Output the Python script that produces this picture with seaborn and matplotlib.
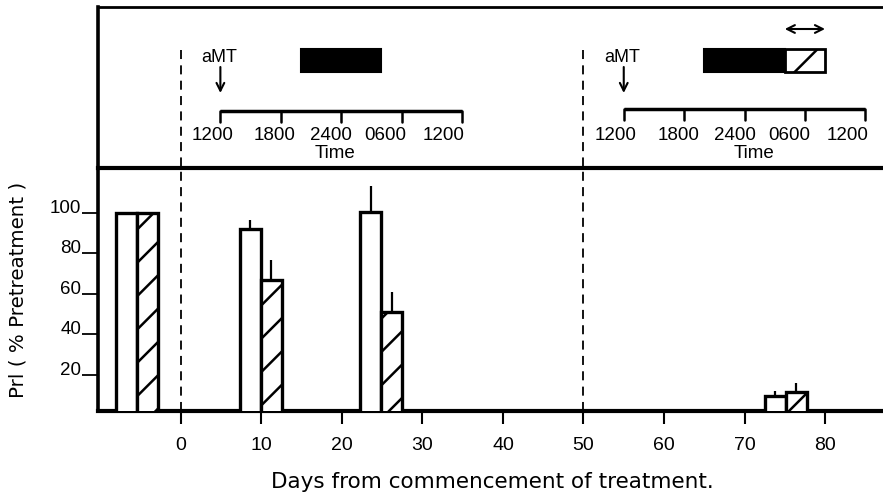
import numpy as np
import pandas as pd
import matplotlib
matplotlib.use("Agg")
import matplotlib.pyplot as plt
from matplotlib.patches import Rectangle
import seaborn as sns

# ---------------- data ----------------
group_days = [-5.4, 9.9, 24.9, 75.1]
control_pct = [100, 92, 100.5, 9.6]
control_sem = [0, 4.5, 12.8, 2.6]
amt_pct = [100, 67, 51.3, 11.8]
amt_sem = [0, 9.9, 9.8, 4.4]
series_names = ["Control", "aMT"]
x_ticks = [0, 10, 20, 30, 40, 50, 60, 70, 80]
y_ticks = [20, 40, 60, 80, 100]
treatment_days = [0, 50]
schedule_start_days = [4.9, 55.0]
clock_hours = [0, 6, 12, 18, 24]
clock_labels = ["1200", "1800", "2400", "0600", "1200"]
dark_hours = [8, 16]
extended_hours = [16, 20]

# ---------------- style ----------------
sns.set_theme(style="white")
plt.rcParams["font.family"] = ["Liberation Sans", "DejaVu Sans"]
plt.rcParams["hatch.linewidth"] = 1.8
plt.rcParams["hatch.color"] = "black"

W, H = 883, 496
fig = plt.figure(figsize=(W / 100, H / 100), dpi=100)
ax = fig.add_axes([98 / W, (H - 411) / H, (W - 98) / W, (411 - 168) / H])
ax_top = fig.add_axes([98 / W, (H - 168) / H, (W - 98) / W, (168 - 7) / H])

df = pd.DataFrame({
    "day": group_days + group_days,
    "pct": control_pct + amt_pct,
    "series": [series_names[0]] * len(group_days) + [series_names[1]] * len(group_days),
})
sns.barplot(data=df, x="day", y="pct", hue="series", native_scale=True, dodge=True,
            width=0.347, palette={series_names[0]: "white", series_names[1]: "white"},
            edgecolor="black", linewidth=2.4, errorbar=None, legend=False,
            saturation=1, ax=ax, zorder=3)

for bar in ax.containers[1]:
    bar.set_hatch("/")

for cont, sems in zip(ax.containers, [control_sem, amt_sem]):
    for bar, s in zip(cont, sems):
        if s > 0:
            xc = bar.get_x() + bar.get_width() / 2
            top = bar.get_y() + bar.get_height()
            ax.vlines(xc, top, top + s, color="black", lw=1.6, zorder=2)

xmin, xmax = -10.3, 87.2
ax.set_xlim(xmin, xmax)
ax.set_ylim(2.2, 122.2)
ax.set_xticks(x_ticks)
ax.set_xticklabels([str(t) for t in x_ticks])
ax.set_yticks(y_ticks)
ax.set_yticklabels([str(t) for t in y_ticks])
ax.tick_params(axis="x", direction="out", length=9.5, width=1.5, pad=9.5,
               labelsize=14, bottom=True, colors="black")
ax.tick_params(axis="y", direction="out", length=11.5, width=1.3, pad=0.5,
               labelsize=13.5, left=True, colors="black")
plt.setp(ax.get_yticklabels(), va="baseline")
for side in ["top", "right"]:
    ax.spines[side].set_visible(False)
ax.spines["left"].set_linewidth(2.6)
ax.spines["bottom"].set_linewidth(3)
for sp in ax.spines.values():
    sp.set_color("black")

for d in treatment_days:
    ax.axvline(d, ls=(0, (5, 3.5)), lw=1.3, color="black", zorder=1)

ax.set_xlabel("Days from commencement of treatment.", fontsize=15.5,
              family=["DejaVu Sans"], color="black")
ax.xaxis.set_label_coords(0.503, -0.25)
ax.set_ylabel("Prl ( % Pretreatment )", fontsize=14.3, family=["DejaVu Sans"],
              color="black")
ax.yaxis.set_label_coords(-0.09, 0.5)

# ---------------- top schematic panel ----------------
ax_top.set_xlim(xmin, xmax)
ax_top.set_ylim(168, 7)
ax_top.set_xticks([])
ax_top.set_yticks([])
ax_top.spines["right"].set_visible(False)
ax_top.spines["left"].set_linewidth(2.6)
ax_top.spines["top"].set_linewidth(2)
ax_top.spines["bottom"].set_linewidth(3)
for sp in ax_top.spines.values():
    sp.set_color("black")

ax_top.vlines(treatment_days, 50, 168, linestyles=[(0, (5, 3.5))], lw=1.3, color="black")

dph = 1.25  # days of axis per clock hour in the schematic
line_y = [111, 109]
label_shift = [-0.8, -0.6, -1.0, -1.6, -1.8]
time_word_hours = [11.4, 12.9]
for i, s in enumerate(schedule_start_days):
    ly = line_y[i]
    ax_top.plot([s, s + clock_hours[-1] * dph], [ly, ly], color="black", lw=2.5,
                solid_capstyle="butt")
    for h, lab, sh in zip(clock_hours, clock_labels, label_shift):
        ax_top.plot([s + h * dph] * 2, [ly, ly + 11], color="black", lw=1.8)
        ax_top.text(s + (h + sh) * dph, 135, lab, ha="center", va="center",
                    fontsize=13.5, color="black")
    ax_top.text(s + time_word_hours[i] * dph, 153, "Time", ha="center", va="center",
                fontsize=13.5, color="black")
    ax_top.add_patch(Rectangle((s + dark_hours[0] * dph, 49),
                               (dark_hours[1] - dark_hours[0]) * dph, 23,
                               facecolor="black", edgecolor="black", lw=1.5))
    ax_top.text(s - 0.2, 57, "aMT", ha="center", va="center", fontsize=13, color="black")
    ax_top.annotate("", xy=(s, 93), xytext=(s, 67),
                    arrowprops=dict(arrowstyle="->", color="black", lw=1.5,
                                    mutation_scale=14, shrinkA=0, shrinkB=0))
    if i == 1:
        ax_top.add_patch(Rectangle((s + extended_hours[0] * dph, 49),
                                   (extended_hours[1] - extended_hours[0]) * dph, 23,
                                   facecolor="white", edgecolor="black", lw=2,
                                   hatch="/"))
        ax_top.annotate("", xy=(s + extended_hours[1] * dph, 29),
                        xytext=(s + extended_hours[0] * dph, 29),
                        arrowprops=dict(arrowstyle="<->", color="black", lw=1.5,
                                        mutation_scale=14, shrinkA=0, shrinkB=0))

fig.savefig("out.png", dpi=100, facecolor="white")
